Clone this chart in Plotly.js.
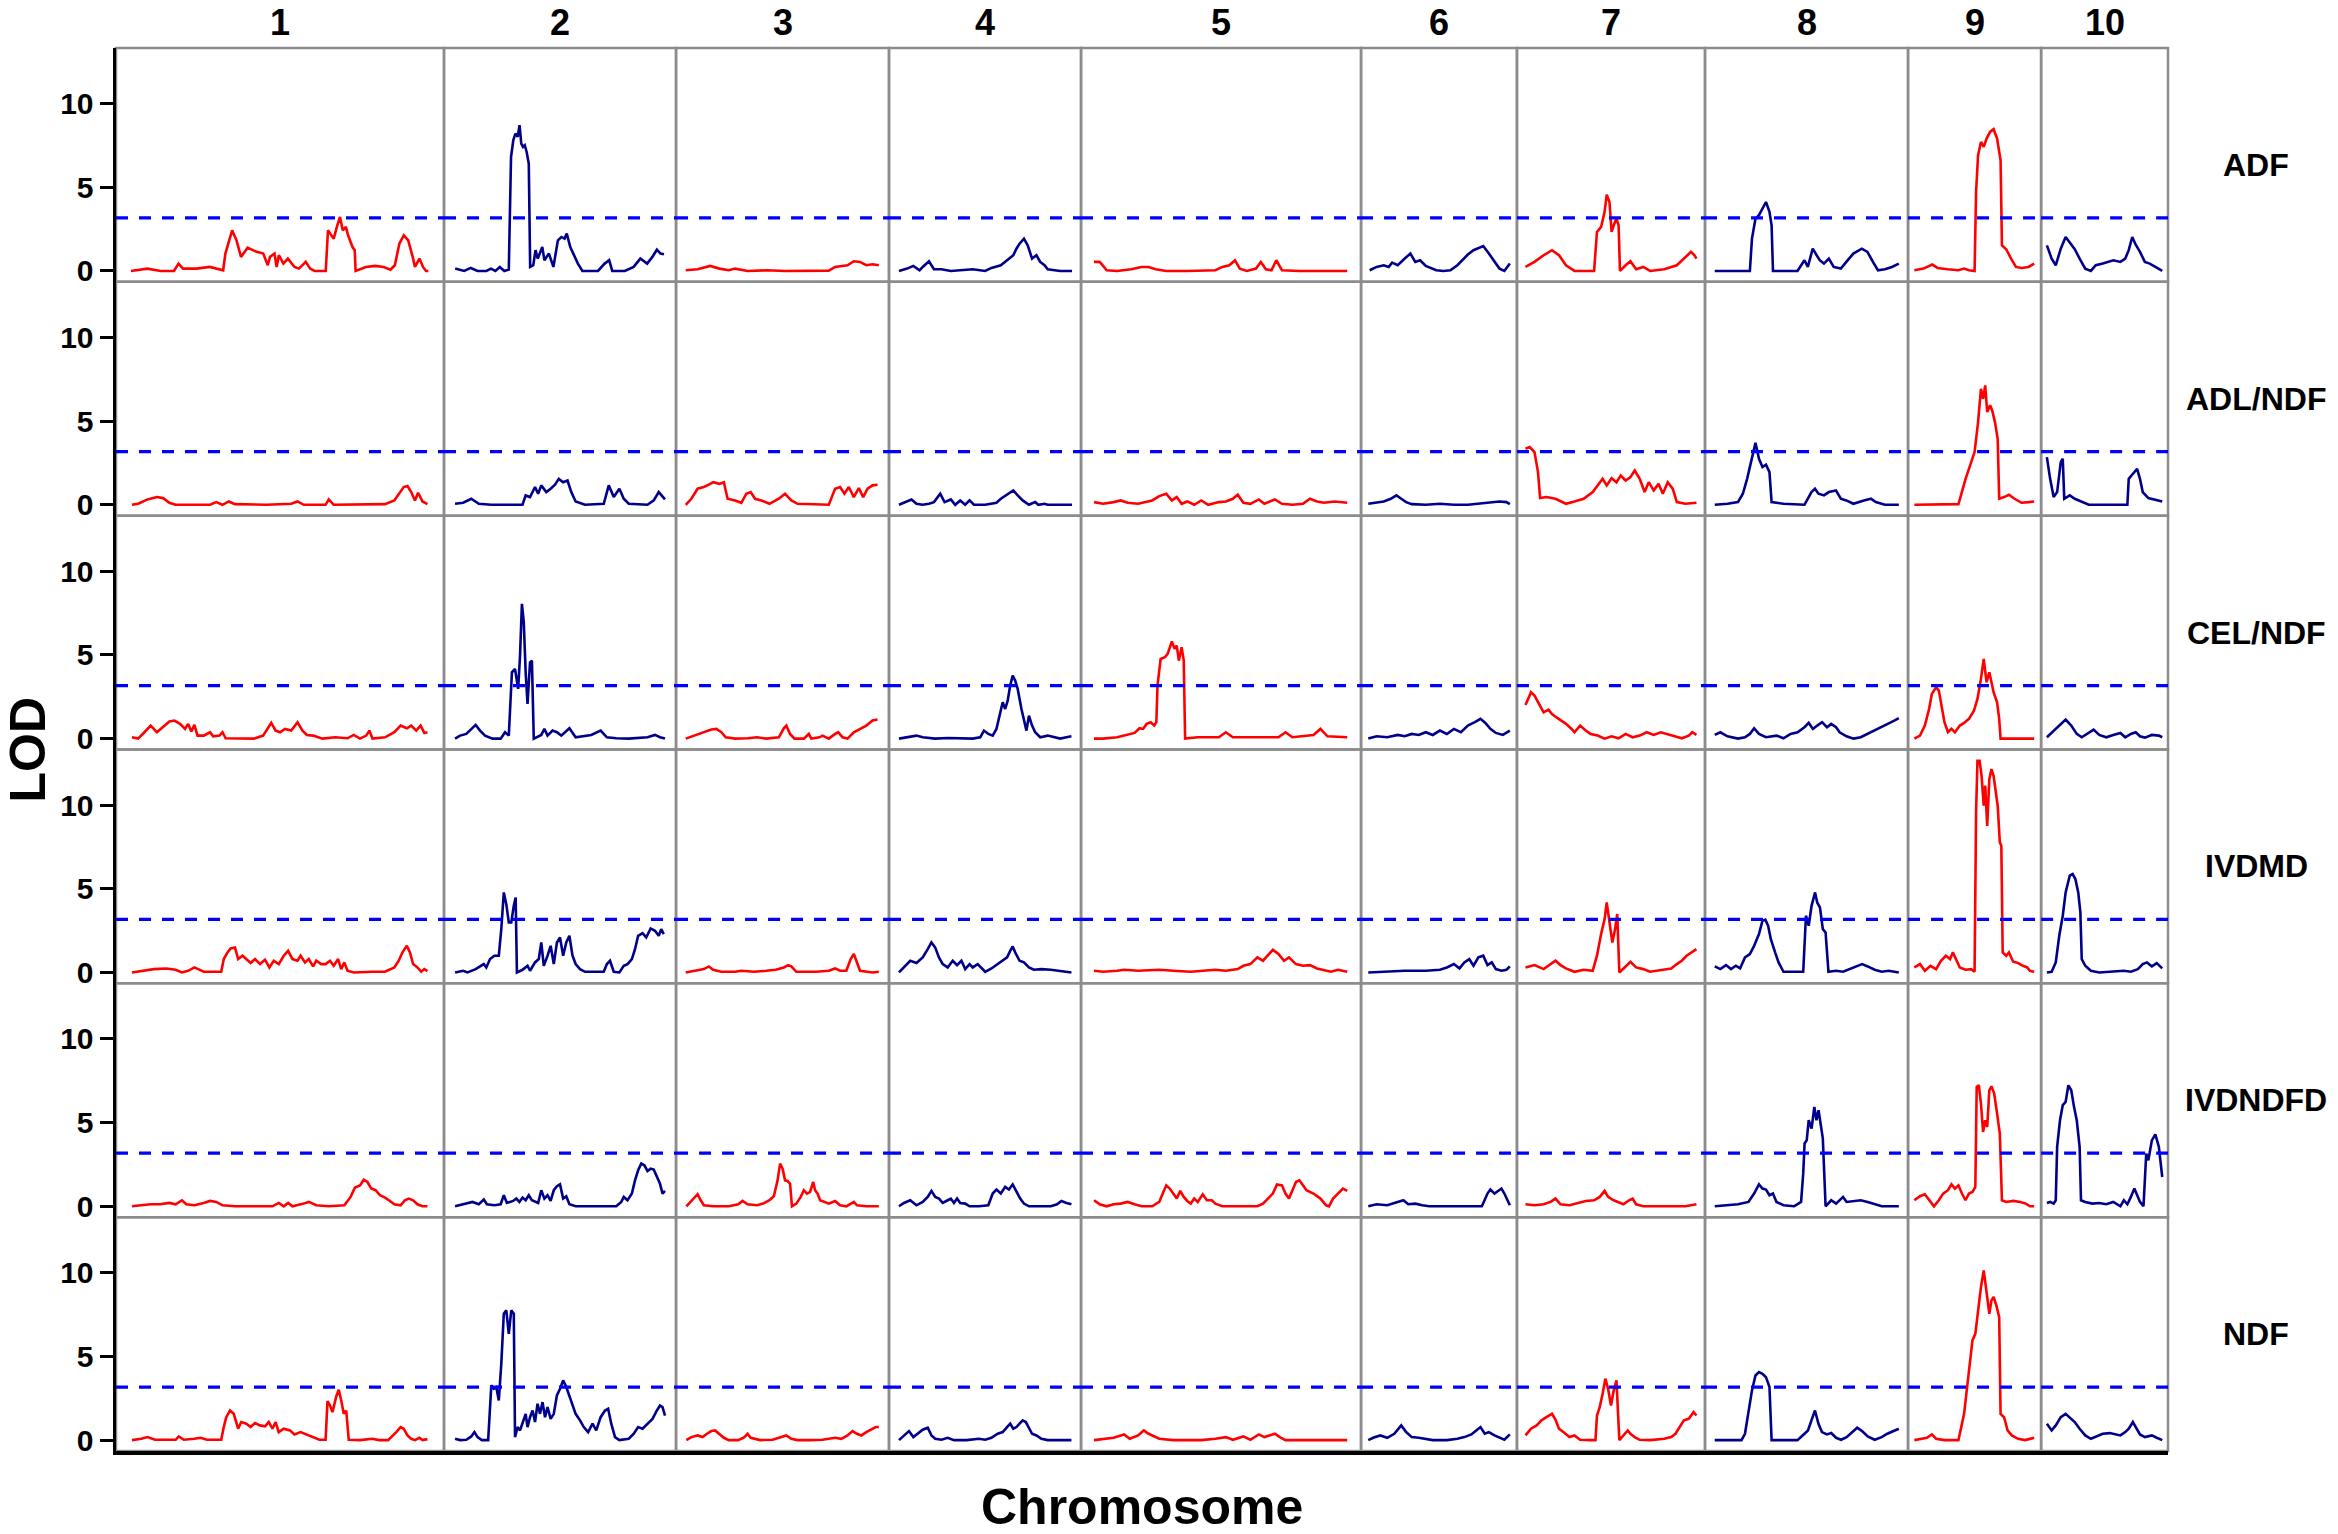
<!DOCTYPE html>
<html><head><meta charset="utf-8">
<script src="https://cdn.plot.ly/plotly-3.0.1.min.js"></script>
<style>html,body{margin:0;padding:0;background:#fff}</style>
</head><body>
<div id="chart" style="width:2338px;height:1534px"></div>
<script>
// ---------------- data ----------------
const chromosomes = ['1','2','3','4','5','6','7','8','9','10'];
const chrLen = [238.6, 168.8, 154.9, 139.7, 203.7, 113.4, 136.8, 147.7, 96.8, 92.3]; // cM
const traits = ['ADF','ADL/NDF','CEL/NDF','IVDMD','IVDNDFD','NDF'];
const threshold = 3.17;
const yTicks = [0, 5, 10];

// each trait: one entry per chromosome, list of [position cM, LOD]
const ADF = [
 [[0,0],[13.1,0.14],[23.8,0],[34.5,0],[38.1,0.44],[41.7,0.14],[52.4,0.14],[63.1,0.24],[73.8,0.04],[75.6,1.04],[81,2.43],[84.5,1.83],[88.1,0.84],[93.4,1.39],[100.6,1.14],[105.9,1.04],[109.5,0.34],[111.3,0.84],[114.9,1.04],[116.6,0.24],[118.4,0.94],[122,0.44],[125.6,0.74],[130.9,0.24],[134.5,0.14],[139.9,0.54],[143.4,0.14],[147,0],[155.9,0],[157.7,2.43],[159.5,2.23],[162.3,1.93],[164.8,2.63],[167.3,3.23],[169.5,2.43],[172,2.63],[173.8,2.13],[177.3,1.43],[179.1,1.24],[179.8,0],[188,0.24],[195.2,0.3],[202.3,0.24],[207.7,0.08],[211.2,0.34],[214.8,1.63],[218.4,2.13],[221.9,1.83],[225.5,0.84],[227.3,0.24],[230.9,0.74],[233.7,0.24],[236.2,0],[238,0]],
 [[0.5,0.14],[7.7,0],[13,0.18],[18.4,0],[25.5,0],[29.1,0.14],[32.7,0],[36.2,0.24],[39.8,0],[43.4,0.08],[45.2,6.81],[47,7.81],[48.7,8.21],[50.5,8.01],[52,8.71],[53.4,7.61],[54.8,7.41],[56.2,7.51],[57.7,7.11],[59.4,6.41],[60.5,0.24],[63,0.34],[64.8,1.24],[66.6,0.74],[70.2,1.43],[71.9,0.64],[75.5,1.04],[79.1,0.24],[82.7,1.83],[85.5,2.03],[88,1.93],[89.8,2.23],[92.6,1.43],[95.1,1.04],[98.7,0.44],[102.3,0],[114.8,0],[120.1,0.44],[123.7,0.64],[126.2,0],[136.2,0],[143.3,0.24],[148.7,0.74],[154.1,0.44],[158.3,0.84],[161.9,1.27],[164.8,1.04],[167.6,1.0]],
 [[0,0.04],[9.5,0.1],[19.5,0.3],[27,0.14],[34.5,0.04],[39.5,0.14],[49.5,0],[64.5,0.04],[79.5,0],[99.5,0],[114.5,0.02],[119.5,0.24],[129.5,0.34],[134.5,0.58],[139.5,0.54],[144.5,0.34],[149.5,0.4],[154.5,0.34]],
 [[1,0],[7.5,0.14],[12.5,0.3],[17.5,0.04],[20,0.24],[25,0.58],[29,0.1],[35,0.1],[42.5,0],[50,0.04],[60,0.1],[70,0],[75,0.18],[82.5,0.34],[87.5,0.64],[90,0.74],[92.5,0.94],[95,1.33],[97.5,1.63],[101,1.93],[104,1.53],[107.5,0.74],[111,0.94],[114,0.54],[117.5,0.34],[120,0.1],[130,0],[139.5,0]],
 [[0.2,0.54],[4.7,0.54],[7.5,0.3],[10.3,0.04],[18.7,0],[29.9,0.1],[38.3,0.24],[43.9,0.24],[49.6,0.1],[58,0],[74.8,0],[97.3,0.04],[102.9,0.24],[108.5,0.34],[113,0.64],[116.9,0.14],[122.5,0],[129.8,0.14],[133.7,0.54],[137.7,0.1],[142.2,0.04],[146.1,0.64],[150.6,0.04],[164.6,0],[181.4,0],[202.8,0]],
 [[1.2,0.04],[6.8,0.24],[12.5,0.34],[16.4,0.24],[19.2,0.5],[23.7,0.34],[29.3,0.74],[33.8,1.04],[37.7,0.54],[41.6,0.64],[46.1,0.3],[50.6,0.18],[54.5,0.04],[60.2,0],[65.8,0.04],[71.4,0.34],[75.3,0.64],[79.8,0.98],[84.3,1.24],[88.2,1.37],[92.1,1.49],[96.6,1.04],[101.1,0.58],[105.1,0.14],[109,0],[113.4,0.44]],
 [[0,0.24],[7.2,0.54],[14.5,0.94],[21.2,1.24],[26.8,0.94],[32.4,0.34],[39.2,0],[54.9,0],[57.2,2.33],[60.5,2.63],[63.3,3.53],[65,4.56],[67.2,4.12],[68.9,2.33],[70.6,2.73],[72.8,3.13],[74.5,2.73],[75.6,0],[80.1,0.34],[84,0.58],[88.5,0.1],[94.2,0.24],[99.8,0],[111,0.1],[121.1,0.34],[126.7,0.74],[132.4,1.14],[135.2,0.94],[136.8,0.74]],
 [[0.4,0],[10.6,0],[28.5,0],[30.2,1.93],[33,3.13],[35.8,3.33],[38.6,3.73],[41.4,4.12],[44.2,3.53],[45.9,2.73],[47,0],[55.4,0],[66.6,0],[72.2,0.64],[74.9,0.24],[78.8,1.33],[82.2,0.94],[84.4,0.64],[87.8,0.44],[91.7,0.74],[95.6,0.24],[101.3,0.14],[105.7,0.54],[111.3,1.04],[118.1,1.33],[122.6,1.14],[127,0.54],[131,0.04],[136.6,0.1],[142.2,0.24],[147.7,0.44]],
 [[0.2,0.04],[7.5,0.14],[14.6,0.38],[18.7,0.18],[27.1,0.1],[35.5,0.04],[40,0.14],[43.9,0.04],[48.4,0],[49.6,4.72],[51.2,6.91],[53.5,7.71],[55.7,7.41],[58,7.91],[60.8,8.31],[63.6,8.47],[66.4,7.91],[69.2,6.61],[70.3,1.53],[73.7,1.3],[77.6,0.74],[81.5,0.24],[86,0.18],[91.6,0.24],[96.1,0.44]],
 [[0,1.53],[3.8,0.74],[7.1,0.34],[11.1,1.33],[15,2.03],[18.3,1.73],[22.3,1.3],[26.2,0.74],[30.7,0.14],[35.2,0],[39.1,0.34],[44.7,0.44],[48.7,0.54],[53.2,0.64],[58.8,0.54],[62.7,0.74],[65.5,1.24],[68.3,2.03],[71.1,1.57],[74.5,1.14],[78.4,0.54],[82.3,0.44],[86.8,0.24],[92.3,0]]
];

const ADL_NDF = [
 [[0.8,0],[5.8,0.06],[13.3,0.32],[20.8,0.46],[25.8,0.4],[30.8,0.12],[35.8,0],[63.3,0],[68.3,0.16],[73.3,0],[78.3,0.2],[83.3,0.04],[108.3,0],[128.3,0.06],[133.3,0.2],[138.3,0],[155.8,0],[158.3,0.32],[162.3,0],[183.3,0],[203.3,0.04],[210.8,0.26],[214.3,0.66],[218.3,1.06],[221.3,1.12],[224.3,0.76],[227.3,0.26],[229.8,0.72],[233.3,0.2],[237.3,0.04]],
 [[0.4,0.06],[6.9,0.12],[13.4,0.36],[19.4,0.06],[29.4,0],[54.4,0],[56.9,0.56],[60.4,0.46],[64.4,1.06],[66.9,0.66],[69.4,1.16],[73.4,0.76],[76.9,0.96],[80.4,1.2],[83.4,1.55],[86.9,1.35],[90.4,1.45],[93.4,0.76],[96.9,0.2],[104.4,0],[119.4,0.06],[123.4,1.16],[127.4,0.46],[131.9,0.96],[135.4,0.36],[139.4,0.06],[154.4,0],[159.4,0.26],[163.4,0.76],[166.4,0.46],[168.4,0.32]],
 [[0,0],[4.5,0.36],[9.5,0.96],[14.5,1.06],[18.5,1.2],[22,1.35],[27,1.25],[30.5,1.35],[33.5,0.36],[39.5,0.26],[44.5,0.12],[48.5,0.66],[52,0.76],[55.5,0.36],[60.5,0.26],[67,0.06],[74.5,0.36],[79.5,0.66],[84.5,0.26],[89.5,0.06],[114.5,0],[119.5,0.96],[123.5,1.06],[127,0.66],[130.5,1.06],[134.5,0.46],[138.5,1.0],[142,0.46],[145.5,0.96],[149.5,1.16],[153.5,1.2]],
 [[1,0],[6,0.16],[11,0.32],[15,0.06],[20,0],[25,0.06],[29,0.16],[34,0.66],[37.5,0.16],[42.5,0.32],[46,0],[50,0.26],[54,0],[57.5,0.26],[61,0],[70,0],[75,0.06],[79,0.12],[82.5,0.36],[87.5,0.6],[90,0.76],[92.5,0.86],[96,0.56],[100,0.26],[105,0],[110,0.16],[112.5,0],[117.5,0.06],[120,0],[139.5,0]],
 [[0.2,0.16],[7.5,0.06],[15.9,0.16],[21.5,0.26],[27.1,0.12],[35.5,0.06],[46.7,0.26],[52.4,0.52],[58,0.66],[62.5,0.26],[66.4,0.46],[70.3,0.06],[74.8,0.2],[80.4,0],[86,0.26],[91.6,0],[100.1,0.16],[105.7,0.2],[111.3,0.36],[115.2,0.6],[119.7,0.12],[125.3,0.06],[132.1,0.32],[136.5,0.06],[144.9,0.32],[150.6,0.06],[159,0],[167.4,0.06],[173,0.36],[178.6,0.2],[184.2,0.12],[192.7,0.2],[202.8,0.12]],
 [[0.1,0.06],[6.8,0.16],[12.5,0.2],[18.1,0.36],[22.6,0.56],[26.5,0.36],[30.4,0.16],[34.9,0.04],[46.1,0],[57.4,0.06],[68.6,0],[79.8,0],[96.6,0.12],[105.1,0.2],[110.7,0.16],[113.4,0.04]],
 [[0,3.35],[3.3,3.45],[7.2,3.15],[10,1.95],[11.7,0.4],[16.7,0.46],[24,0.36],[32.4,0.06],[39.2,0.2],[46.5,0.36],[53.8,0.76],[57.7,1.16],[61.7,1.55],[65,1.16],[68.9,1.59],[72.8,1.35],[76.2,1.75],[80.1,1.45],[84,1.65],[87.4,2.05],[91.4,1.55],[95.3,0.76],[98.6,1.35],[102.6,0.86],[106.5,1.25],[109.9,0.66],[113.8,1.35],[117.8,0.96],[121.1,0.16],[127.9,0.06],[136.8,0.12]],
 [[0.4,0],[10.6,0.06],[19,0.16],[22.9,0.66],[26.3,1.55],[30.2,2.75],[33,3.7],[35.8,2.75],[38.6,2.25],[41.4,2.39],[44.2,1.95],[45.9,0.16],[55.4,0.06],[72.2,0],[77.8,0.76],[80.6,0.96],[83.4,0.66],[87.8,0.56],[91.7,0.76],[97.4,0.86],[101.3,0.36],[105.7,0.26],[111.3,0.06],[119.8,0.26],[125.4,0.36],[129.3,0.16],[136.6,0],[147.7,0]],
 [[0.2,0],[18.7,0],[35.5,0.04],[41.2,1.55],[45.6,2.55],[48.4,3.15],[51.2,4.94],[53.5,6.93],[55.2,6.33],[56.9,7.13],[58.5,5.54],[60.8,5.94],[62.5,5.64],[64.7,4.94],[66.9,3.94],[68.1,0.36],[72,0.46],[75.9,0.6],[80.4,0.36],[86,0.12],[91.6,0.16],[96.1,0.2]],
 [[0,2.85],[2.6,1.55],[5.4,0.46],[8.2,0.76],[11.1,2.55],[12.7,2.75],[13.9,0.36],[18.3,0.56],[22.3,0.36],[27.9,0.16],[33.5,0],[64.4,0],[65.5,1.55],[67.7,1.75],[70,1.95],[72.2,2.15],[74.5,1.55],[76.7,0.76],[81.2,0.4],[86.8,0.32],[92.3,0.2]]
];

const CEL_NDF = [
 [[0.8,0.08],[5.8,0],[10.8,0.38],[15.8,0.78],[20.8,0.38],[25.8,0.68],[30.8,1.02],[34.8,1.08],[39.3,0.88],[43.3,0.58],[45.8,0.88],[48.3,0.42],[50.8,0.82],[53.3,0.18],[58.3,0.18],[63.3,0.38],[65.8,0.14],[70.8,0.18],[73.3,0.38],[75.8,0.02],[83.3,0],[98.3,0],[105.8,0.18],[112.3,0.94],[115.8,0.48],[119.3,0.38],[123.3,0.58],[128.3,0.48],[133.3,0.98],[137.3,0.48],[140.8,0.22],[145.8,0.18],[153.3,0],[163.3,0.08],[173.3,0.02],[178.3,0.22],[183.3,0],[188.3,0.18],[190.8,0.48],[193.3,0],[203.3,0.08],[210.8,0.38],[215.8,0.78],[220.8,0.62],[224.3,0.78],[228.3,0.48],[231.8,0.78],[234.8,0.34],[237.3,0.38]],
 [[0.4,0],[4.4,0.18],[9.4,0.28],[13.4,0.58],[16.9,0.82],[20.4,0.48],[24.4,0.18],[30.4,0],[36.9,0],[40.4,0.38],[43.4,0.18],[45.9,3.96],[48.4,4.16],[50.9,2.97],[52.4,4.96],[53.9,8.05],[55.4,6.95],[56.9,3.96],[58.4,2.07],[60.4,4.56],[61.9,4.66],[63.4,0],[69.4,0.22],[71.9,0.58],[74.4,0.18],[78.4,0.48],[81.9,0.38],[85.4,0.18],[91.9,0.62],[96.9,0.08],[104.4,0.14],[109.4,0.22],[116.9,0.48],[121.9,0.08],[129.4,0.02],[139.4,0],[154.4,0.08],[160.4,0.22],[164.4,0.08],[168.4,0]],
 [[0,0],[7,0.18],[14.5,0.38],[20.5,0.54],[24.5,0.58],[28.5,0.38],[32,0.08],[39.5,0],[49.5,0.02],[57,0.08],[64.5,0],[74.5,0.08],[78.5,0.62],[80.5,0.78],[83.5,0.28],[87,0],[94.5,0],[98.5,0.28],[100.5,0],[107,0.08],[109.5,0.18],[114.5,0],[119.5,0.28],[122,0.38],[125.5,0.08],[129.5,0],[134.5,0.38],[139.5,0.58],[144.5,0.78],[149.5,1.08],[153.5,1.14]],
 [[1,0],[7.5,0.08],[15,0.18],[20,0.08],[30,0],[40,0.04],[50,0],[60,0],[66,0.08],[69,0.48],[72.5,0.28],[76,0.18],[79,0.58],[82,1.57],[84,2.17],[86,1.77],[88,2.27],[90,3.17],[92,3.76],[94,3.47],[96,2.97],[99,1.77],[101,1.18],[103,0.48],[105,1.37],[107.5,0.78],[110,0.38],[114,0.08],[120,0.18],[125,0.08],[130,0],[135,0.08],[139,0.14]],
 [[0.2,0],[7.5,0],[18.7,0.08],[27.1,0.22],[32.7,0.34],[36.6,0.62],[39.5,0.58],[42.3,0.88],[45.6,0.98],[48.4,0.78],[50.1,0.98],[51,3.17],[53.5,4.76],[56.9,4.86],[59.1,5.06],[62.5,5.8],[64.7,5.36],[66.4,5.56],[68.1,4.66],[70.3,5.46],[72,4.66],[73.1,0],[83.2,0.08],[100.1,0.08],[105.7,0.38],[111.3,0.08],[147.8,0.08],[153.4,0.38],[159,0.08],[175.8,0.22],[181.4,0.58],[187,0.14],[202.8,0.08]],
 [[0.1,0],[6.8,0.14],[15.3,0.08],[23.7,0.22],[29.3,0.14],[34.9,0.28],[40.5,0.22],[46.1,0.38],[51.7,0.22],[57.4,0.48],[63,0.28],[68.6,0.58],[74.2,0.38],[79.8,0.78],[85.4,0.98],[89.9,1.18],[93.8,0.94],[97.8,0.58],[102.2,0.34],[107.8,0.22],[113.4,0.48]],
 [[0,2.01],[4.4,2.77],[7.2,2.57],[10,2.17],[14.5,1.57],[18.4,1.73],[21.2,1.47],[25.7,1.22],[29.6,1.02],[32.4,0.88],[36.9,0.58],[39.2,0.38],[43.7,0.78],[48.2,0.48],[52.1,0.28],[57.7,0.18],[63.3,0],[68.9,0.14],[74.5,0.02],[80.1,0.28],[85.7,0.08],[91.4,0.18],[97,0.38],[102.6,0.22],[108.2,0.38],[113.8,0.28],[119.4,0.14],[125,0.02],[130.6,0.18],[133.4,0.38],[136.8,0.22]],
 [[0.4,0.22],[4.9,0.38],[10.6,0.14],[19,0],[24.6,0.08],[28.5,0.28],[31.9,0.62],[35.8,0.28],[41.4,0.08],[49.8,0.18],[55.4,0.02],[61.1,0.28],[66.7,0.38],[72.2,0.68],[75.6,0.94],[79,0.58],[82.4,0.78],[86.3,0.98],[90.2,0.68],[93.6,0.88],[97.5,0.68],[100.3,0.38],[105.9,0.14],[111.5,0],[117.2,0.08],[122.8,0.28],[128.4,0.48],[134,0.68],[139.6,0.88],[144.1,1.08],[147.7,1.22]],
 [[0.2,0],[4.7,0.18],[8.6,0.78],[12,1.77],[14.2,2.67],[17.6,3.07],[19.8,2.87],[22.1,1.97],[24.3,0.98],[27.1,0.38],[29.9,0.58],[32.7,0.38],[36.6,0.78],[40,0.94],[43.9,1.18],[47.9,1.67],[50.7,2.37],[53.5,3.57],[55.7,4.76],[58,3.37],[60.2,3.96],[63.6,2.77],[66.4,2.17],[68.1,1.18],[69.2,0],[80.4,0],[96.1,0]],
 [[0,0.08],[5.4,0.48],[11.1,0.88],[15,1.14],[19.5,0.78],[23.9,0.28],[27.9,0.08],[33.5,0.38],[37.4,0.54],[41.9,0.22],[47.5,0.08],[53.1,0.22],[58.8,0.34],[62.7,0.08],[67.2,0.28],[71.1,0.38],[74.5,0.14],[78.4,0.06],[84,0.22],[89.6,0.18],[92.3,0.08]]
];

const IVDMD = [
 [[0.8,0],[8.3,0.1],[18.3,0.2],[28.3,0.24],[35.8,0.16],[40.8,0],[45.8,0.1],[50.8,0.3],[54.3,0.2],[58.3,0.04],[65.8,0.04],[72.3,0.04],[74.3,0.8],[77.3,1.2],[79.8,1.43],[83.3,1.49],[85.8,0.8],[89.3,1.0],[92.3,0.8],[95.8,0.56],[99.3,0.8],[103.3,0.5],[107.3,0.76],[110.8,0.3],[114.3,0.7],[118.3,0.5],[122.3,1.0],[125.8,1.29],[129.3,0.8],[133.3,0.7],[135.8,1.0],[139.3,0.6],[142.3,0.8],[145.8,0.36],[148.3,0.7],[152.3,0.5],[155.8,0.5],[159.3,0.7],[162.3,0.4],[165.8,0.8],[168.3,0.2],[170.8,0.6],[173.3,0.1],[178.3,0],[193.3,0.04],[203.3,0.04],[210.8,0.3],[214.3,0.7],[217.3,1.2],[220.8,1.59],[223.3,1.2],[225.8,0.5],[229.3,0.3],[232.3,0.04],[234.8,0.2],[237.3,0.08]],
 [[0.4,0],[6.9,0.1],[10.4,0],[16.9,0.2],[23.4,0.5],[25.4,0.3],[28.4,0.8],[31.9,1.0],[35.4,1.0],[37.4,2.59],[39.4,4.78],[41.4,4.08],[43.4,2.99],[45.4,2.99],[47.4,3.98],[48.9,4.48],[49.9,0],[54.4,0.16],[58.4,0.4],[60.4,0.1],[64.4,0.6],[67.4,0.8],[69.4,1.79],[71.4,0.4],[74.4,1.0],[76.9,1.59],[79.4,0.5],[81.9,1.79],[84.4,2.09],[86.9,1.0],[89.4,1.79],[91.9,2.19],[94.4,1.0],[96.9,0.5],[100.4,0.2],[104.4,0.04],[119.4,0.04],[121.9,0.5],[124.4,0.7],[127.4,0.04],[131.9,0],[135.4,0.4],[138.4,0.5],[141.9,0.8],[144.4,1.39],[146.9,2.19],[150.4,2.35],[153.4,2.09],[156.9,2.63],[160.4,2.49],[163.4,2.19],[165.4,2.59],[167.4,2.29]],
 [[0,0],[7,0.1],[14.5,0.2],[18.5,0.36],[22,0.16],[28.5,0.04],[39.5,0.04],[44.5,0.1],[54.5,0.04],[64.5,0.1],[72,0.16],[78.5,0.3],[82,0.44],[84.5,0.36],[88.5,0.04],[104.5,0.04],[114.5,0.1],[119.5,0.24],[123.5,0.1],[128.5,0.1],[132,0.8],[134.5,1.1],[137,0.6],[139.5,0.1],[149.5,0],[154.5,0.04]],
 [[1,0],[5,0.3],[10,0.7],[15,0.56],[20,0.9],[24,1.39],[27,1.79],[30,1.49],[33,0.9],[36,0.5],[40,0.3],[44,0.7],[47.5,0.44],[51,0.7],[54,0.2],[57.5,0.5],[60,0.3],[64,0.5],[67.5,0.2],[70,0.04],[75,0.24],[80,0.5],[84,0.7],[87.5,0.9],[90,1.29],[92,1.55],[94,1.2],[97.5,0.7],[101,0.6],[105,0.3],[109,0.16],[115,0.2],[122.5,0.16],[130,0.1],[139,0]],
 [[0.2,0.1],[7.5,0.04],[18.7,0.1],[24.3,0.16],[35.5,0.1],[52.4,0.16],[63.6,0.1],[77.6,0.04],[97.3,0.16],[105.7,0.1],[115.2,0.2],[119.7,0.4],[125.3,0.5],[130.9,0.9],[135.4,0.7],[139.3,1.0],[143.3,1.35],[147.8,1.1],[152.3,0.7],[156.2,0.9],[161.8,0.5],[167.4,0.4],[173,0.44],[178.6,0.24],[184.2,0.16],[189.8,0.04],[195.5,0.16],[202.8,0.04]],
 [[0.1,0],[12.5,0.04],[29.3,0.1],[46.1,0.1],[57.4,0.16],[63,0.3],[68.6,0.5],[73.1,0.24],[77,0.6],[80.9,0.8],[84.3,0.4],[88.2,0.9],[92.1,1.0],[95.5,0.44],[98.9,0.6],[102.2,0.2],[106.7,0.1],[110.7,0.16],[113.4,0.36]],
 [[0,0.3],[7.2,0.44],[14.5,0.2],[20.1,0.5],[24,0.7],[28,0.44],[32.4,0.24],[39.2,0.04],[46.5,0.16],[53.8,0.1],[57.2,1.0],[60.5,2.29],[63.3,3.19],[65,4.18],[67.2,3.09],[69.5,1.79],[71.7,2.59],[73.4,3.49],[75.1,0],[80.1,0.36],[84,0.64],[88.5,0.3],[94.2,0.2],[99.8,0.04],[108.2,0.16],[116.6,0.24],[121.1,0.5],[125,0.7],[128.9,1.0],[133.4,1.24],[136.8,1.39]],
 [[0.4,0.36],[4.9,0.2],[9.4,0.44],[13.4,0.2],[17.3,0.4],[20.7,0.24],[24.6,0.9],[28.5,1.1],[31.9,1.59],[35.8,2.29],[38.6,3.09],[40.9,3.15],[43.1,2.79],[45.3,1.99],[48.7,1.2],[51.5,0.6],[55.4,0.04],[63.9,0.04],[71.2,0.04],[73.4,3.39],[75.6,2.79],[77.9,3.98],[80.7,4.78],[82.4,4.18],[84.6,3.88],[86.9,2.59],[89.1,2.39],[91.4,0.04],[97.5,0.1],[103.1,0.04],[108.7,0.2],[114.3,0.4],[118.3,0.5],[122.8,0.36],[128.4,0.16],[134,0.04],[139.6,0.1],[147.7,0]],
 [[0.2,0.3],[4.7,0.5],[8.6,0.1],[13.1,0.4],[17.6,0.2],[21.5,0.7],[25.4,1.0],[28.8,0.8],[31,1.2],[34.4,0.7],[36.6,0.3],[41.1,0.16],[45.6,0.2],[48.4,0.04],[49.6,9.56],[50.7,12.65],[52.4,12.65],[54,11.75],[55.7,9.96],[56.9,11.16],[58.5,8.76],[60.2,11.55],[61.9,12.15],[63.6,11.75],[65.3,10.96],[66.9,9.96],[68.6,7.77],[69.8,7.57],[70.9,1.2],[73.7,1.0],[75.9,1.2],[79.3,0.64],[83.2,0.56],[86,0.44],[90.5,0.3],[92.7,0.1],[96.1,0.04]],
 [[0,0],[3.8,0.04],[7.1,0.6],[9.9,2.19],[12.7,3.39],[15,4.78],[18.3,5.78],[20.6,5.88],[22.8,5.58],[25.1,4.78],[26.8,3.59],[27.9,0.8],[30.7,0.4],[35.2,0.1],[41.9,0],[53.1,0.04],[61.6,0.1],[67.2,0.04],[72.8,0.2],[76.7,0.5],[80.1,0.6],[84,0.36],[87.9,0.56],[92.3,0.24]]
];

const IVDNDFD = [
 [[0.8,0],[8.3,0.06],[15.8,0.12],[23.3,0.12],[30.8,0.2],[35.8,0.12],[40.8,0.36],[44.3,0.12],[50.8,0.06],[58.3,0.2],[63.3,0.32],[68.3,0.26],[73.3,0.06],[83.3,0],[98.3,0],[113.3,0],[118.3,0.2],[122.3,0],[125.8,0.2],[129.3,0],[138.3,0.16],[142.3,0.26],[148.3,0.06],[158.3,0],[170.8,0.06],[175.8,0.56],[179.3,1.12],[183.3,1.25],[186.3,1.59],[189.3,1.45],[192.3,1.06],[195.8,0.96],[199.3,0.66],[203.3,0.52],[207.3,0.32],[210.8,0.12],[215.8,0.06],[219.3,0.36],[222.3,0.46],[225.8,0.36],[229.3,0.12],[233.3,0],[237.3,0]],
 [[0.4,0],[6.9,0.12],[14.4,0.26],[19.4,0.12],[23.4,0.4],[25.9,0.12],[31.9,0.06],[36.9,0.12],[39.4,0.66],[41.9,0.2],[46.9,0.32],[49.4,0.46],[51.9,0.26],[54.4,0.52],[56.9,0.36],[59.4,0.66],[61.9,0.36],[66.9,0.2],[69.4,0.96],[71.9,0.46],[74.4,0.66],[76.9,0.32],[79.4,0.96],[81.9,1.2],[84.4,1.31],[86.9,0.46],[89.4,0.6],[91.9,0.12],[96.9,0],[114.4,0],[129.4,0],[133.4,0.26],[135.4,0.56],[138.4,0.36],[141.9,0.76],[144.4,1.55],[146.9,2.15],[149.4,2.55],[151.9,2.45],[154.4,2.11],[156.9,2.25],[159.4,2.19],[161.9,1.75],[164.4,1.35],[166.4,0.76],[168.4,0.92]],
 [[0.5,0],[3.5,0.26],[7,0.56],[9.5,0.72],[12,0.36],[14.5,0.06],[22,0],[34.5,0],[42,0.12],[45.5,0.32],[49.5,0.12],[57,0.06],[62,0.16],[67,0.36],[70.5,0.6],[73.5,1.55],[75.5,2.55],[77.5,2.25],[79.5,1.55],[81.5,1.51],[83.5,1.35],[85,0],[88.5,0.16],[92,0.56],[94.5,0.96],[97,0.76],[99.5,0.86],[102,1.45],[103.5,0.96],[105.5,0.76],[107.5,0.36],[110.5,0.26],[114.5,0.16],[119.5,0.32],[123.5,0.06],[128.5,0],[134.5,0.26],[137,0.06],[144.5,0],[154.5,0]],
 [[1,0],[5,0.2],[10,0.36],[15,0.06],[20,0.26],[24,0.56],[27,0.92],[30,0.56],[33,0.46],[36,0.2],[40,0.36],[42.5,0.46],[45,0.2],[47.5,0.46],[50,0.2],[54,0.16],[57.5,0],[65,0],[72.5,0.06],[76,0.76],[79,1.0],[82.5,0.76],[86,1.16],[89,1.0],[92,1.31],[95,0.86],[98,0.46],[101,0.16],[105,0],[115,0],[122.5,0],[127.5,0.12],[131,0.32],[135,0.2],[139,0.12]],
 [[0.2,0.36],[4.7,0.12],[10.3,0],[15.9,0.12],[21.5,0.16],[27.1,0.26],[32.7,0.12],[38.3,0],[46.7,0],[52.4,0.26],[55.2,0.76],[58,1.25],[60.8,1.06],[63.6,0.76],[66.4,0.46],[69.2,0.92],[72,0.56],[74.8,0.32],[77.6,0.16],[80.4,0.46],[83.2,0.26],[87.2,0.72],[90.5,0.36],[94.4,0.36],[97.3,0.16],[102.9,0],[119.7,0],[130.9,0],[135.4,0.16],[139.3,0.46],[143.3,0.76],[146.6,1.31],[150.6,1.25],[153.4,0.76],[156.2,0.46],[159,0.96],[161.8,1.45],[164.6,1.55],[167.4,1.25],[170.2,0.96],[175.8,0.76],[181.4,0.46],[185.9,0.06],[188.2,0],[191.5,0.46],[195.5,0.76],[199.4,1.06],[202.8,0.92]],
 [[0.1,0],[6.8,0.12],[15.3,0.06],[23.7,0.26],[28.2,0.36],[32.1,0.12],[37.7,0.16],[43.3,0.06],[48.9,0],[63,0],[79.8,0],[91,0],[95.5,0.76],[97.8,1.0],[101.1,0.76],[103.9,0.92],[106.7,1.06],[109,0.76],[111.2,0.36],[113.4,0.06]],
 [[0,0.12],[7.2,0.06],[14.5,0.12],[20.1,0.26],[24,0.46],[28,0.12],[35.2,0.06],[40.9,0.16],[48.2,0.32],[54.9,0.36],[59.4,0.56],[63.3,0.92],[66.1,0.56],[70.6,0.36],[74.5,0.26],[78.4,0.12],[82.9,0.36],[85.7,0.46],[88.5,0.12],[94.2,0],[111,0],[127.9,0],[136.8,0.12]],
 [[0.4,0],[10.6,0.06],[19,0.12],[27.4,0.26],[31.9,0.76],[35.8,1.31],[38.6,1.06],[41.4,1.0],[44.2,0.66],[47,0.76],[49.8,0.26],[55.4,0.06],[63.9,0],[69.5,0.26],[71.2,1.95],[72.3,3.75],[74,3.94],[75.6,5.14],[77.9,4.64],[80.1,5.94],[81.8,5.14],[83.5,5.74],[85.2,4.74],[86.9,4.04],[89.1,0],[93.6,0.36],[97.5,0.16],[103.1,0.56],[105.9,0.26],[111.5,0.32],[117.2,0.36],[122.8,0.26],[128.4,0.12],[134,0],[147.7,0]],
 [[0.2,0.36],[4.7,0.6],[8.6,0.72],[13.1,0.26],[15.9,0],[19.8,0.36],[23.2,0.76],[27.1,0.96],[29.9,1.31],[32.7,1.06],[35.5,1.25],[38.3,0.76],[41.1,0.36],[43.9,0.76],[46.7,0.86],[49,1.16],[50.1,7.13],[51.8,7.23],[53.5,6.14],[55.2,4.44],[56.9,5.14],[58.5,4.74],[60.2,6.93],[61.9,7.17],[64.1,6.73],[66.4,5.54],[68.6,4.34],[70.3,0.36],[73.7,0.26],[79.3,0.32],[84.9,0.26],[89.4,0.16],[92.7,0],[96.1,0]],
 [[0,0.2],[2.6,0.26],[5.4,0.16],[7.1,0.36],[8.2,3.55],[10.5,5.14],[12.7,6.04],[15,6.24],[17.2,7.23],[19.5,6.93],[21.7,5.94],[23.9,5.14],[26.2,3.55],[27.3,0.36],[30.7,0.26],[36.3,0.16],[41.9,0.2],[47.5,0.12],[53.1,0.26],[58.8,0],[61.6,0.36],[64.4,0.12],[67.2,0.56],[70,1.06],[74.5,0.26],[77.3,0],[79.5,3.15],[81.2,2.75],[84,3.94],[86.8,4.3],[89.6,3.55],[92.3,1.75]]
];

const NDF = [
 [[0.8,0],[8.3,0.08],[13.3,0.18],[19.3,0.02],[28.3,0.02],[35.8,0.02],[38.3,0.22],[42.3,0.02],[50.8,0.08],[55.8,0.14],[60.8,0.02],[72.3,0.02],[74.3,0.78],[76.3,1.37],[79.3,1.77],[82.3,1.57],[85.8,0.68],[88.3,1.08],[92.3,0.98],[95.8,0.78],[99.3,1.02],[103.3,0.88],[107.3,0.82],[110.3,1.08],[113.3,0.68],[115.8,1.08],[118.3,0.48],[122.3,0.68],[127.3,0.58],[130.8,0.34],[135.8,0.48],[140.8,0.34],[145.8,0.18],[150.8,0.02],[155.8,0.02],[157.3,2.33],[159.3,2.07],[161.3,1.67],[164.3,2.61],[166.3,3.01],[168.3,2.37],[170.3,1.57],[172.3,1.77],[174.3,0.02],[183.3,0],[193.3,0.08],[198.3,0],[205.8,0],[212.3,0.48],[215.8,0.78],[218.3,0.68],[221.3,0.28],[224.3,0.08],[227.3,0],[230.8,0.14],[233.3,0],[237.3,0.06]],
 [[0.4,0.08],[4.4,0],[9.4,0.02],[13.4,0.22],[15.9,0.48],[18.4,0.18],[21.9,0],[26.9,0],[29.4,3.27],[31.4,3.07],[33.4,3.17],[35.4,2.37],[37.4,4.56],[39.4,7.55],[41.4,7.75],[43.4,6.35],[45.4,7.75],[47.4,7.55],[48.4,0.18],[50.4,0.78],[52.4,0.58],[54.4,1.08],[56.9,1.57],[58.4,0.78],[60.4,1.37],[62.4,1.77],[64.4,1.08],[66.4,2.17],[68.4,1.57],[70.4,2.27],[72.4,1.37],[74.4,1.97],[76.9,1.27],[79.4,1.57],[81.9,2.67],[84.4,3.07],[86.9,3.57],[89.4,3.17],[91.9,2.67],[94.4,2.17],[96.9,1.57],[100.4,1.18],[103.4,0.78],[106.9,0.48],[110.4,0.98],[113.4,0.58],[116.9,1.37],[120.4,1.77],[122.9,1.87],[125.4,0.98],[128.4,0.18],[131.9,0],[139.4,0.08],[143.4,0.38],[146.9,0.78],[150.4,0.68],[154.4,0.98],[158.4,1.27],[161.9,1.77],[164.4,2.07],[166.4,1.97],[168.4,1.47]],
 [[0.5,0],[4.5,0.18],[9.5,0.28],[13.5,0.18],[17,0.38],[20.5,0.54],[23.5,0.58],[27,0.34],[30.5,0.14],[34.5,0],[42,0],[47,0.18],[49.5,0.38],[52,0.14],[59.5,0],[69.5,0.02],[77,0.18],[80.5,0.28],[84.5,0.08],[89.5,0],[99.5,0],[109.5,0.02],[119.5,0.14],[124.5,0.08],[129.5,0.28],[133.5,0.54],[137,0.38],[140.5,0.28],[144.5,0.48],[148.5,0.62],[152,0.78],[154.5,0.78]],
 [[1,0],[5,0.28],[9,0.54],[12.5,0.18],[16,0.38],[20,0.62],[24,0.74],[27,0.28],[30,0.08],[35,0.02],[40,0.14],[45,0],[55,0],[65,0.08],[70,0.02],[75,0.14],[80,0.38],[84,0.48],[87.5,0.78],[90,0.98],[92.5,0.68],[95,0.78],[97.5,0.98],[100,1.18],[102.5,1.08],[105,0.68],[107.5,0.38],[111,0.28],[115,0.08],[120,0],[130,0],[139,0]],
 [[0.2,0],[7.5,0.08],[15.9,0.14],[24.3,0.34],[28.8,0.08],[35.5,0.28],[40,0.58],[43.9,0.38],[47.9,0.22],[52.4,0.08],[63.6,0],[74.8,0.02],[86,0],[97.3,0.08],[105.7,0.18],[111.3,0.02],[119.7,0.22],[125.3,0.02],[132.1,0.34],[136.5,0.18],[144.9,0.38],[148.9,0.18],[153.4,0],[164.6,0],[181.4,0],[202.8,0]],
 [[0.1,0],[4,0.14],[9.7,0.28],[15.3,0.14],[20.9,0.38],[26.5,0.88],[30.4,0.48],[34.9,0.18],[40.5,0.14],[46.1,0.08],[51.7,0],[63,0],[71.4,0.08],[77,0.18],[82.6,0.34],[86.5,0.58],[89.9,0.78],[93.3,0.38],[96.6,0.48],[101.1,0.28],[105.1,0.14],[109,0.02],[113.4,0.34]],
 [[0,0.28],[4.4,0.68],[8.9,0.88],[12.8,1.18],[16.7,1.37],[21.2,1.57],[24,1.22],[26.8,0.68],[31.3,0.42],[35.2,0.18],[39.2,0.28],[43.7,0.02],[52.1,0],[56,0],[57.2,1.47],[59.4,1.97],[61.7,2.77],[63.9,3.67],[66.1,3.07],[68.4,2.07],[70.6,2.97],[72.8,3.57],[75.1,0],[78.4,0.28],[81.8,0.58],[84,0.38],[87.4,0.18],[91.4,0.02],[99.8,0],[111,0.08],[116.6,0.18],[120,0.38],[123.3,0.78],[126.7,1.18],[130.6,1.27],[134.5,1.67],[136.8,1.47]],
 [[0.4,0],[10.6,0],[21.8,0],[24.6,0.38],[27.4,1.77],[30.2,2.97],[33,3.86],[35.8,4.06],[38.6,3.96],[41.4,3.76],[44.2,3.17],[45.9,0],[55.4,0],[66.6,0],[72.2,0.38],[75,0.58],[77.8,1.18],[80.6,1.77],[83.4,0.98],[86.2,0.48],[90.2,0.34],[93.6,0.42],[97.5,0.14],[101.5,0.02],[105.9,0.18],[110.4,0.48],[114.4,0.74],[118.3,0.54],[122.8,0.22],[128.4,0.02],[134,0.18],[138.5,0.38],[144.1,0.54],[147.7,0.68]],
 [[0.2,0],[4.7,0.08],[10.3,0.14],[14.2,0.34],[17.6,0.08],[24.3,0],[35.5,0],[40,1.57],[42.3,3.17],[44.5,4.36],[46.7,5.96],[49,6.35],[51.2,7.85],[53.5,9.14],[55.7,10.14],[56.9,9.54],[58.5,8.55],[60.2,7.55],[61.9,8.35],[63.6,8.55],[65.8,8.05],[68.1,7.35],[69.2,1.57],[72,1.37],[74.8,0.58],[78.2,0.28],[83.2,0.08],[88.8,0],[92.7,0.08],[96.1,0.14]],
 [[0,0.98],[3.8,0.58],[7.1,0.88],[11.1,1.37],[15,1.57],[18.3,1.33],[22.3,1.08],[26.2,0.68],[30.7,0.28],[35.2,0.08],[39.1,0.22],[44.7,0.38],[50.3,0.42],[54.3,0.34],[58.8,0.28],[62.7,0.48],[65.5,0.68],[68.8,1.08],[71.1,0.78],[74.5,0.34],[78.4,0.18],[84,0.28],[87.9,0.14],[92.3,0]]
];

const lodByTrait = [ADF, ADL_NDF, CEL_NDF, IVDMD, IVDNDFD, NDF];

// ---------------- styling ----------------
const FONT = 'Liberation Sans, Arial, Helvetica, sans-serif';
const oddColor = '#FF0000', evenColor = '#00008B';
const W = 2338, H = 1534;
const margin = {l: 116, r: 170, t: 48, b: 83};
const plotW = W - margin.l - margin.r, plotH = H - margin.t - margin.b;

const totalLen = chrLen.reduce((a, b) => a + b, 0);
const xDomains = [];
let cum = 0;
chrLen.forEach(L => { xDomains.push([cum / totalLen, (cum + L) / totalLen]); cum += L; });
const nRows = traits.length;
const yDomains = traits.map((t, r) => [1 - (r + 1) / nRows, 1 - r / nRows]);

const xName = c => c === 0 ? 'x' : 'x' + (c + 1);
const yName = r => r === 0 ? 'y' : 'y' + (r + 1);
const xKey = c => c === 0 ? 'xaxis' : 'xaxis' + (c + 1);
const yKey = r => r === 0 ? 'yaxis' : 'yaxis' + (r + 1);

const data = [];
traits.forEach((t, r) => {
  lodByTrait[r].forEach((pts, c) => {
    data.push({
      type: 'scatter', mode: 'lines',
      x: pts.map(p => p[0]), y: pts.map(p => p[1]),
      xaxis: xName(c), yaxis: yName(r),
      line: {color: (c % 2 === 0) ? oddColor : evenColor, width: 2.6},
      hoverinfo: 'skip', showlegend: false
    });
  });
});

const layout = {
  width: W, height: H, margin: margin,
  paper_bgcolor: '#ffffff', plot_bgcolor: '#ffffff',
  showlegend: false, hovermode: false,
  font: {family: FONT, color: '#000000'},
  shapes: [], annotations: []
};

chrLen.forEach((L, c) => {
  layout[xKey(c)] = {
    domain: xDomains[c], anchor: yName(nRows - 1),
    range: [-0.05 * L, 1.05 * L],
    showgrid: false, zeroline: false, showticklabels: false, ticks: '',
    showline: true, linecolor: '#000000', linewidth: 3.5,
    fixedrange: true
  };
});
traits.forEach((t, r) => {
  layout[yKey(r)] = {
    domain: yDomains[r], anchor: 'x',
    range: [-0.65, 13.32],
    tickvals: yTicks, ticktext: yTicks.map(String),
    ticks: 'outside', ticklen: 13, tickwidth: 3, tickcolor: '#000000',
    tickfont: {family: FONT, size: 30, color: '#000000', weight: 'bold'},
    showgrid: false, zeroline: false,
    showline: true, linecolor: '#000000', linewidth: 3.5,
    fixedrange: true
  };
});

// panel borders + threshold lines
traits.forEach((t, r) => {
  chrLen.forEach((L, c) => {
    layout.shapes.push({
      type: 'rect', layer: 'below',
      xref: xName(c) + ' domain', yref: yName(r) + ' domain',
      x0: 0, x1: 1, y0: 0, y1: 1,
      line: {color: '#8c8c8c', width: 2.5}, fillcolor: 'rgba(0,0,0,0)'
    });
    layout.shapes.push({
      type: 'line', layer: 'above',
      xref: xName(c) + ' domain', yref: yName(r),
      x0: 0, x1: 1, y0: threshold, y1: threshold,
      line: {color: '#0000FF', width: 3.2, dash: '12px,11px'}
    });
  });
});

// chromosome labels on top
chromosomes.forEach((name, c) => {
  layout.annotations.push({
    xref: 'paper', yref: 'paper',
    x: (xDomains[c][0] + xDomains[c][1]) / 2, y: 1 + 25 / plotH,
    xanchor: 'center', yanchor: 'middle', showarrow: false,
    text: '<b>' + name + '</b>',
    font: {family: FONT, size: 36, color: '#000000', weight: 'bold'}
  });
});
// trait labels on the right
traits.forEach((t, r) => {
  layout.annotations.push({
    xref: 'paper', yref: 'paper',
    x: (2256 - margin.l) / plotW, y: (yDomains[r][0] + yDomains[r][1]) / 2,
    xanchor: 'center', yanchor: 'middle', showarrow: false,
    text: '<b>' + t + '</b>',
    font: {family: FONT, size: 32, color: '#000000', weight: 'bold'}
  });
});
// axis titles
layout.annotations.push({
  xref: 'paper', yref: 'paper', x: 0.5, y: -56 / plotH,
  xanchor: 'center', yanchor: 'middle', showarrow: false,
  text: '<b>Chromosome</b>',
  font: {family: FONT, size: 50, color: '#000000', weight: 'bold'}
});
layout.annotations.push({
  xref: 'paper', yref: 'paper', x: (27 - margin.l) / plotW, y: 0.5,
  xanchor: 'center', yanchor: 'middle', showarrow: false, textangle: -90,
  text: '<b>LOD</b>',
  font: {family: FONT, size: 50, color: '#000000', weight: 'bold'}
});

Plotly.newPlot('chart', data, layout, {displayModeBar: false, staticPlot: true});
</script>
</body></html>
